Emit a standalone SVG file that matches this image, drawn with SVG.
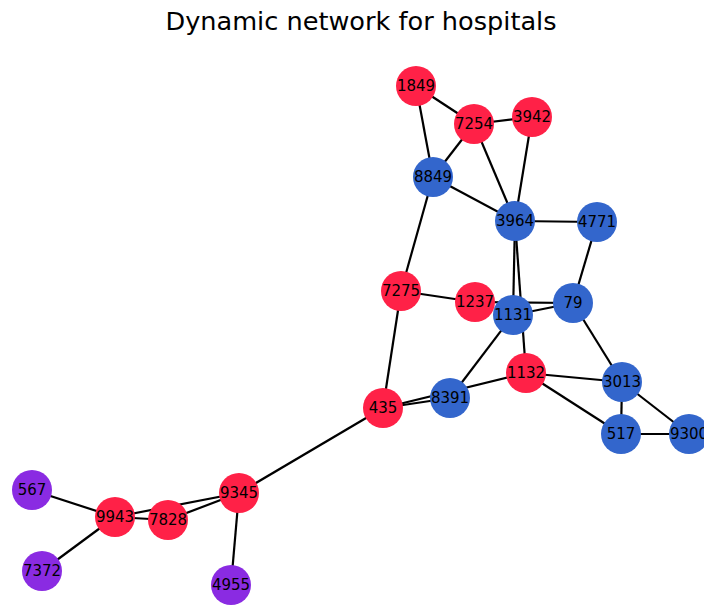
<svg xmlns="http://www.w3.org/2000/svg" width="704" height="605" viewBox="0 0 704 605">
  <style>
    .edge { stroke: #000; stroke-width: 2.2; fill: none; }
    .node circle { stroke: none; }
    .hosp circle { fill: #ff2147; }
    .ward circle { fill: #3366cc; }
    .ext circle { fill: #8a2be2; }
    .node text { font-family: "DejaVu Sans", sans-serif; font-size: 15px; fill: #000; text-anchor: middle; dominant-baseline: central; }
    .title { font-family: "DejaVu Sans", sans-serif; font-size: 25.6px; fill: #000; text-anchor: middle; }
  </style>
  <rect width="704" height="605" fill="#fff"/>
  <text class="title" x="361" y="30">Dynamic network for hospitals</text>

  <g id="edges">
    <line class="edge" x1="416" y1="86" x2="474" y2="124"/>
    <line class="edge" x1="416" y1="86" x2="433" y2="177"/>
    <line class="edge" x1="474" y1="124" x2="532" y2="117"/>
    <line class="edge" x1="474" y1="124" x2="433" y2="177"/>
    <line class="edge" x1="474" y1="124" x2="515" y2="221"/>
    <line class="edge" x1="532" y1="117" x2="515" y2="221"/>
    <line class="edge" x1="433" y1="177" x2="515" y2="221"/>
    <line class="edge" x1="433" y1="177" x2="401" y2="291"/>
    <line class="edge" x1="515" y1="221" x2="597" y2="222"/>
    <line class="edge" x1="515" y1="221" x2="513" y2="315"/>
    <line class="edge" x1="515" y1="221" x2="526" y2="373"/>
    <line class="edge" x1="597" y1="222" x2="573" y2="303"/>
    <line class="edge" x1="401" y1="291" x2="475" y2="302"/>
    <line class="edge" x1="401" y1="291" x2="383" y2="408"/>
    <line class="edge" x1="475" y1="302" x2="573" y2="303"/>
    <line class="edge" x1="513" y1="315" x2="573" y2="303"/>
    <line class="edge" x1="513" y1="315" x2="450" y2="398"/>
    <line class="edge" x1="573" y1="303" x2="622" y2="382"/>
    <line class="edge" x1="526" y1="373" x2="622" y2="382"/>
    <line class="edge" x1="526" y1="373" x2="621" y2="434"/>
    <line class="edge" x1="622" y1="382" x2="621" y2="434"/>
    <line class="edge" x1="622" y1="382" x2="689" y2="434"/>
    <line class="edge" x1="621" y1="434" x2="689" y2="434"/>
    <line class="edge" x1="383" y1="408" x2="450" y2="398"/>
    <line class="edge" x1="383" y1="408" x2="526" y2="373"/>
    <line class="edge" x1="383" y1="408" x2="239" y2="493"/>
    <line class="edge" x1="239" y1="493" x2="115" y2="517"/>
    <line class="edge" x1="239" y1="493" x2="168" y2="520"/>
    <line class="edge" x1="115" y1="517" x2="168" y2="520"/>
    <line class="edge" x1="239" y1="493" x2="231" y2="585"/>
    <line class="edge" x1="115" y1="517" x2="32" y2="490"/>
    <line class="edge" x1="115" y1="517" x2="42" y2="571"/>
  </g>

  <g id="n1849" class="node hosp"><circle cx="416" cy="86" r="20"/><text x="416" y="86">1849</text></g>
  <g id="n7254" class="node hosp"><circle cx="474" cy="124" r="20"/><text x="474" y="124">7254</text></g>
  <g id="n3942" class="node hosp"><circle cx="532" cy="117" r="20"/><text x="532" y="117">3942</text></g>
  <g id="n8849" class="node ward"><circle cx="433" cy="177" r="20"/><text x="433" y="177">8849</text></g>
  <g id="n3964" class="node ward"><circle cx="515" cy="221" r="20"/><text x="515" y="221">3964</text></g>
  <g id="n4771" class="node ward"><circle cx="597" cy="222" r="20"/><text x="597" y="222">4771</text></g>
  <g id="n7275" class="node hosp"><circle cx="401" cy="291" r="20"/><text x="401" y="291">7275</text></g>
  <g id="n1237" class="node hosp"><circle cx="475" cy="302" r="20"/><text x="475" y="302">1237</text></g>
  <g id="n1131" class="node ward"><circle cx="513" cy="315" r="20"/><text x="513" y="315">1131</text></g>
  <g id="n79" class="node ward"><circle cx="573" cy="303" r="20"/><text x="573" y="303">79</text></g>
  <g id="n1132" class="node hosp"><circle cx="526" cy="373" r="20"/><text x="526" y="373">1132</text></g>
  <g id="n3013" class="node ward"><circle cx="622" cy="382" r="20"/><text x="622" y="382">3013</text></g>
  <g id="n435" class="node hosp"><circle cx="383" cy="408" r="20"/><text x="383" y="408">435</text></g>
  <g id="n8391" class="node ward"><circle cx="450" cy="398" r="20"/><text x="450" y="398">8391</text></g>
  <g id="n517" class="node ward"><circle cx="621" cy="434" r="20"/><text x="621" y="434">517</text></g>
  <g id="n9300" class="node ward"><circle cx="689" cy="434" r="20"/><text x="689" y="434">9300</text></g>
  <g id="n9345" class="node hosp"><circle cx="239" cy="493" r="20"/><text x="239" y="493">9345</text></g>
  <g id="n9943" class="node hosp"><circle cx="115" cy="517" r="20"/><text x="115" y="517">9943</text></g>
  <g id="n7828" class="node hosp"><circle cx="168" cy="520" r="20"/><text x="168" y="520">7828</text></g>
  <g id="n567" class="node ext"><circle cx="32" cy="490" r="20"/><text x="32" y="490">567</text></g>
  <g id="n7372" class="node ext"><circle cx="42" cy="571" r="20"/><text x="42" y="571">7372</text></g>
  <g id="n4955" class="node ext"><circle cx="231" cy="585" r="20"/><text x="231" y="585">4955</text></g>
</svg>
